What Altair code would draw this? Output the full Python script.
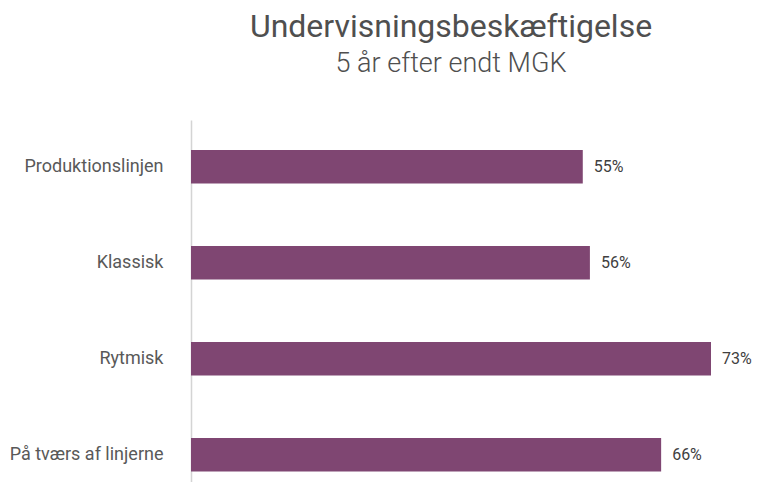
import altair as alt
import pandas as pd

categories = ["Produktionslinjen", "Klassisk", "Rytmisk", "På tværs af linjerne"]
values = [0.55, 0.56, 0.73, 0.66]

df = pd.DataFrame({"linje": categories, "andel": values})

FONT = "Roboto"

base = alt.Chart(df).encode(
    y=alt.Y(
        "linje:N",
        sort=categories,
        title=None,
        scale=alt.Scale(paddingInner=0.65, paddingOuter=0.21, align=0.742),
        axis=alt.Axis(
            domain=True, domainColor="#d4d4d4", domainWidth=1.5,
            ticks=False, labelPadding=28, labelFontSize=18,
            labelColor="#595959", labelFont=FONT, labelLimit=300,
        ),
    ),
    x=alt.X("andel:Q", title=None, axis=None,
            scale=alt.Scale(domain=[0, 0.73], nice=False)),
)

bars = base.mark_bar(color="#7F4672")
labels = base.mark_text(align="left", dx=11, fontSize=16, font=FONT,
                        color="#404040").encode(
    text=alt.Text("andel:Q", format=".0%")
)

chart = (bars + labels).properties(
    width=520,
    height=362,
    autosize=alt.AutoSizeParams(type="none"),
    padding={"left": 183, "top": 112, "right": 43, "bottom": 0},
    title=alt.TitleParams(
        text="Undervisningsbeskæftigelse",
        subtitle="5 år efter endt MGK",
        anchor="middle",
        font=FONT, fontSize=32, fontWeight=400, color="#4f4f4f",
        subtitleFont=FONT, subtitleFontSize=27, subtitleColor="#4f4f4f",
        subtitleFontWeight=300, subtitlePadding=7, offset=42,
    ),
).configure_view(stroke=None)

chart.save("out.html", embed_options={"renderer": "svg", "actions": False})
